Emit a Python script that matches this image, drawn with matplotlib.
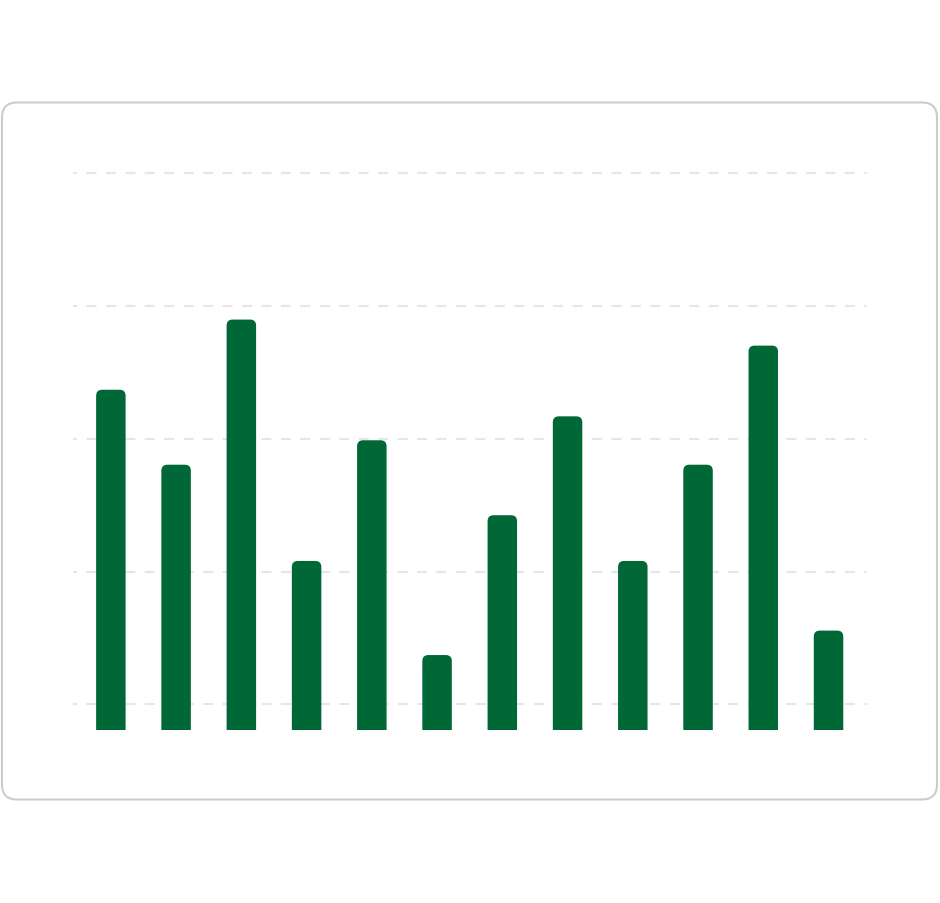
import matplotlib
matplotlib.use('Agg')
import matplotlib.pyplot as plt
from matplotlib.patches import FancyBboxPatch
from matplotlib.transforms import IdentityTransform

# bar values (gridlines at 0, 25, 50, 75, 100)
categories = list(range(12))
values = [59.2, 45.1, 72.4, 27.0, 49.7, 9.3, 35.6, 54.2, 27.0, 45.1, 67.5, 13.9]
grid_values = [0, 25, 50, 75, 100]

bar_color = '#006837'
grid_color = '#e6e6e6'

plt.rcParams['lines.scale_dashes'] = False

fig = plt.figure(figsize=(9.4, 9.04), dpi=100)
fig.patch.set_facecolor('white')

# card background with rounded corners (pixel coordinates), behind the axes
card = FancyBboxPatch((2, 103.5), 935, 697,
                      boxstyle='round,pad=0,rounding_size=15',
                      transform=IdentityTransform(),
                      facecolor='white', edgecolor='#cccccc', linewidth=1.5,
                      zorder=-1)
fig.patches.append(card)

ax = fig.add_axes([72.5 / 940, (904 - 730.8) / 904, 794 / 940, (730.8 - 151.5) / 904])
ax.set_zorder(1)
ax.set_facecolor('none')
ymin, ymax = -4.76, 104.2
ax.set_xlim(-0.588, 11.582)
ax.set_ylim(ymin, ymax)

for g in grid_values:
    ax.axhline(g, color=grid_color, linewidth=1.5,
               linestyle=(4.3, (7.2, 6.8)), zorder=0)

# draw bars, then swap them for top-rounded versions
base = ymin - 3
bars = ax.bar(categories, [v - base for v in values], bottom=base, width=0.452)
x_per_px = 1 / 65.24
y_per_px = 0.18808
radius = 6 * x_per_px
for rect in bars:
    x, y = rect.get_x(), rect.get_y()
    w, h = rect.get_width(), rect.get_height()
    rect.remove()
    p = FancyBboxPatch((x, y), w, h,
                       boxstyle='round,pad=0,rounding_size=%f' % radius,
                       mutation_aspect=y_per_px / x_per_px,
                       facecolor=bar_color, edgecolor='none', zorder=2)
    ax.add_patch(p)

for s in ax.spines.values():
    s.set_visible(False)
ax.set_xticks([])
ax.set_yticks([])

plt.savefig('out.png', dpi=100)
